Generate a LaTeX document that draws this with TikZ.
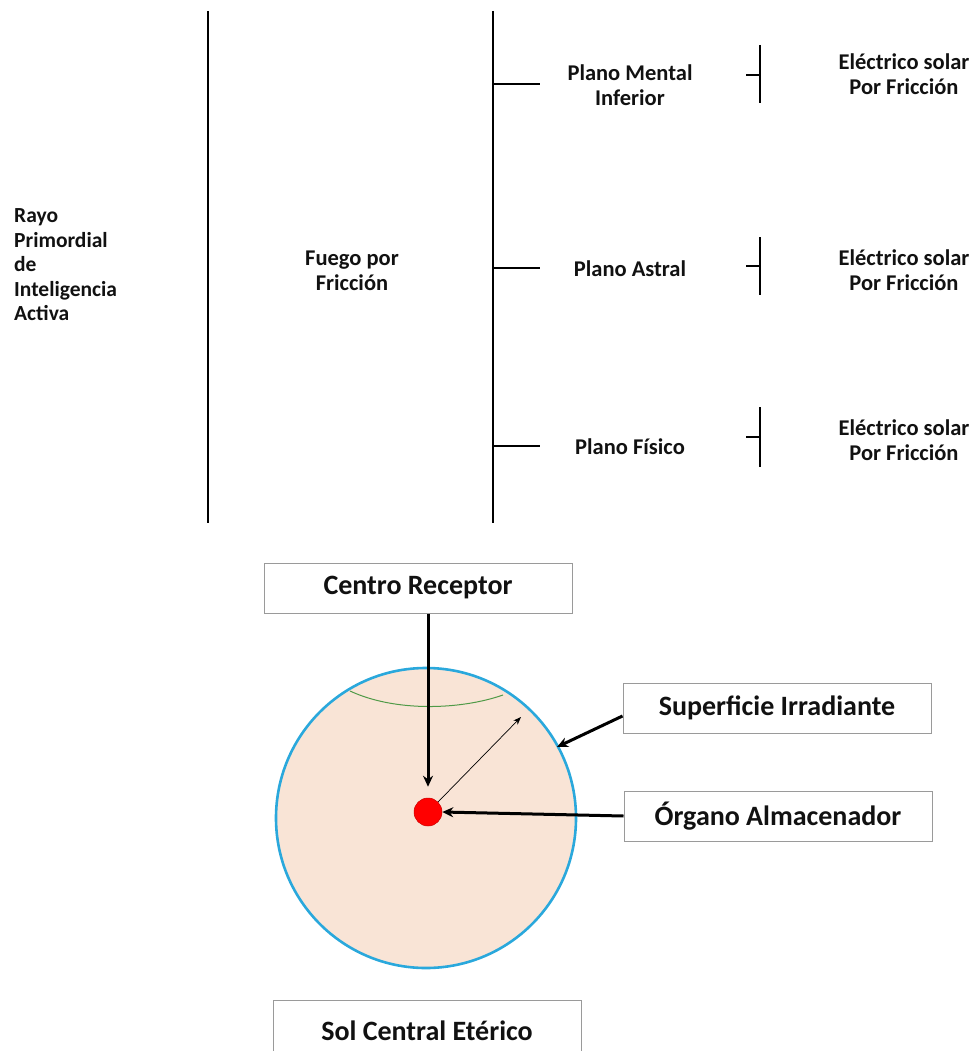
\documentclass[tikz,border=0pt]{standalone}
\usepackage{fontspec}
\setmainfont{Carlito}
\usetikzlibrary{arrows.meta}
\definecolor{peach}{HTML}{F9E4D6}
\definecolor{rim}{HTML}{2AA8DC}
\definecolor{arcg}{HTML}{4F9A47}
\definecolor{boxgray}{HTML}{9A9A9A}
\definecolor{txt}{HTML}{111111}
\begin{document}
\begin{tikzpicture}[x=1pt,y=-1pt,
  toptxt/.style={font=\bfseries\fontsize{22.5}{25.5}\selectfont, text=txt, align=center, inner sep=0},
  lefttxt/.style={font=\bfseries\fontsize{21.5}{24.5}\selectfont, text=txt, align=left, inner sep=0, anchor=west},
  treeline/.style={line width=2.2pt, black},
  brk/.style={line width=1.8pt, black},
  labbox/.style={draw=boxgray, line width=1pt, fill=white, font=\bfseries\fontsize{28}{32}\selectfont, text=txt, minimum width=308pt, minimum height=50pt, inner sep=0},
  thickarrow/.style={line width=3pt, -{Stealth[length=11pt,width=10pt]}},
  thinarrow/.style={line width=0.7pt, -{Stealth[length=8pt,width=6pt]}}
]
\useasboundingbox (0,0) rectangle (974,1051);
\clip (0,0) rectangle (974,1051);

% --- top tree ---
\coordinate (v1t) at (208,11);
\coordinate (v1b) at (208,523);
\coordinate (v2t) at (493,11);
\coordinate (v2b) at (493,523);
\draw[treeline] (v1t) -- (v1b);
\draw[treeline] (v2t) -- (v2b);

\coordinate (b1s) at (493,84);  \coordinate (b1e) at (540,84);
\coordinate (b2s) at (493,268); \coordinate (b2e) at (540,268);
\coordinate (b3s) at (493,446); \coordinate (b3e) at (540,446);
\draw[treeline] (b1s) -- (b1e);
\draw[treeline] (b2s) -- (b2e);
\draw[treeline] (b3s) -- (b3e);

\node[lefttxt] (rayo) at (14,265) {Rayo\\Primordial\\de\\Inteligencia\\Activa};
\node[toptxt] (fuego) at (352,271) {Fuego por\\Fricción};

\node[toptxt] (pm) at (630,85) {Plano Mental\\Inferior};
\node[toptxt] (pa) at (630,269) {Plano Astral};
\node[toptxt] (pf) at (630,447) {Plano Físico};

% brackets
\coordinate (k1t) at (760,45);  \coordinate (k1b) at (760,103); \coordinate (k1m) at (760,75);  \coordinate (k1l) at (746,75);
\coordinate (k2t) at (760,237); \coordinate (k2b) at (760,295); \coordinate (k2m) at (760,266); \coordinate (k2l) at (746,266);
\coordinate (k3t) at (760,407); \coordinate (k3b) at (760,467); \coordinate (k3m) at (760,437); \coordinate (k3l) at (746,437);
\draw[brk] (k1t) -- (k1b); \draw[brk] (k1l) -- (k1m);
\draw[brk] (k2t) -- (k2b); \draw[brk] (k2l) -- (k2m);
\draw[brk] (k3t) -- (k3b); \draw[brk] (k3l) -- (k3m);

\node[toptxt] (e1) at (904,74) {Eléctrico solar\\Por Fricción};
\node[toptxt] (e2) at (904,270) {Eléctrico solar\\Por Fricción};
\node[toptxt] (e3) at (904,440) {Eléctrico solar\\Por Fricción};

% --- sphere ---
\node[circle, draw=rim, line width=2.6pt, fill=peach, minimum size=300pt, inner sep=0] (sphere) at (426,818) {};
\coordinate (ga) at (350,691);
\coordinate (gb) at (503,695);
\draw[arcg, line width=1pt] (ga) .. controls (395,712) and (460,710) .. (gb);
\node[circle, draw=red!80!black, line width=0.5pt, fill=red, minimum size=28pt, inner sep=0] (dot) at (428,812) {};
\coordinate (tip) at (521,717);
\draw[thinarrow] (dot.north east) -- (tip);

% --- boxes ---
\node[labbox] (centro) at (418,588) {Centro Receptor};
\node[labbox] (superf) at (777,708) {Superficie Irradiante};
\node[labbox] (organo) at (778,816) {Órgano Almacenador};
\node[labbox, minimum height=62pt] (sol) at (427,1031) {Sol Central Etérico};

\draw[thickarrow, shorten >=11pt] (centro.south -| dot) -- (dot.north);
\coordinate (sedge) at (557,747);
\draw[thickarrow] ([yshift=-8pt]superf.west) -- (sedge);
\draw[thickarrow] (organo.west) -- (dot.east);
\end{tikzpicture}
\end{document}
